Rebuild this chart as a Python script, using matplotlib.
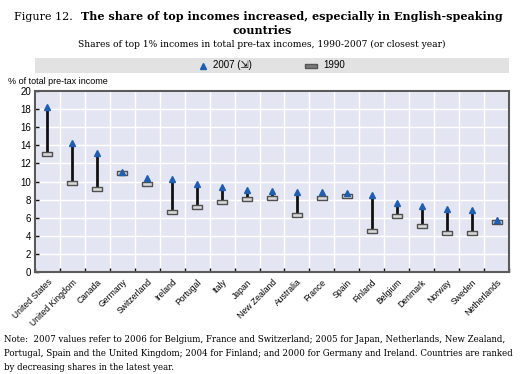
import numpy as np
import matplotlib
matplotlib.use("Agg")
from matplotlib import pyplot as plt
from matplotlib.patches import Rectangle

countries = ["United States", "United Kingdom", "Canada", "Germany", "Switzerland",
             "Ireland", "Portugal", "Italy", "Japan", "New Zealand", "Australia",
             "France", "Spain", "Finland", "Belgium", "Denmark", "Norway", "Sweden",
             "Netherlands"]
share_2007 = [18.2, 14.2, 13.2, 11.1, 10.4, 10.3, 9.7, 9.4, 9.1, 8.9, 8.8,
              8.8, 8.7, 8.5, 7.6, 7.3, 7.0, 6.8, 5.7]
share_1990 = [13.0, 9.8, 9.2, 10.9, 9.7, 6.6, 7.2, 7.7, 8.1, 8.2, 6.3,
              8.2, 8.4, 4.5, 6.2, 5.1, 4.3, 4.3, 5.5]
y_ticks = [0, 2, 4, 6, 8, 10, 12, 14, 16, 18, 20]

sans = ["Liberation Sans Narrow", "Liberation Sans", "DejaVu Sans"]
serif = ["DejaVu Serif"]

blue = "#1f5eb0"
bar_face = "#d8d8d8"
bar_edge = "#505050"
rect_marker = [(-1, -0.3), (1, -0.3), (1, 0.3), (-1, 0.3), (-1, -0.3)]

W, H = 524, 374
fig = plt.figure(figsize=(W / 100, H / 100), dpi=100)
renderer = fig.canvas.get_renderer()
ax = fig.add_axes([35 / W, 102 / H, 474 / W, 181 / H])
ax.set_facecolor("#e4e5f2")

x = np.arange(len(countries))
for i in range(len(countries)):
    ax.plot([x[i], x[i]], [share_1990[i], share_2007[i]], color="#111111",
            lw=2.0, solid_capstyle="butt", zorder=3)
ax.plot(x, share_1990, linestyle="none", marker=rect_marker, markersize=7.5,
        markerfacecolor=bar_face, markeredgecolor=bar_edge, markeredgewidth=1.0,
        zorder=4)
ax.plot(x, share_2007, linestyle="none", marker="^", markersize=5,
        color=blue, zorder=5)

ax.set_xlim(-0.5, len(countries) - 0.5)
ax.set_ylim(0, 20)
ax.set_yticks(y_ticks)
ax.set_yticklabels([str(v) for v in y_ticks], family=sans, fontsize=7)
ax.set_xticks(x)
ax.set_xticklabels(countries, rotation=45, ha="right", rotation_mode="anchor",
                   family=sans, fontsize=6.2)
ax.set_xticks(np.arange(-0.5, len(countries)), minor=True)
ax.tick_params(axis="x", which="major", length=0, pad=4)
ax.tick_params(axis="x", which="minor", direction="in", length=3, width=1, color="#111111")
ax.tick_params(axis="y", direction="in", length=3, width=1, color="#111111", pad=3)

ax.grid(True, axis="y", color="white", lw=1.0, zorder=0)
ax.grid(True, axis="x", which="minor", color="white", lw=1.0, zorder=0)
ax.set_axisbelow(True)
for side in ax.spines.values():
    side.set_color("#5a5a5a")
    side.set_linewidth(1.5)

# titles: size the first line so it spans the same width as the reference
fs = 10.0
t1 = fig.text(14 / W, 1 - 17 / H, "Figure 12.", family=serif, fontsize=fs,
              va="center", ha="left")
t2 = fig.text(0, 1 - 17 / H,
              "The share of top incomes increased, especially in English-speaking",
              family=serif, fontsize=fs, fontweight="bold", va="center", ha="left")
gap = 8
total = (t1.get_window_extent(renderer).width + gap
         + t2.get_window_extent(renderer).width)
fs = fs * 486 / total
t1.set_fontsize(fs)
t2.set_fontsize(fs)
w1 = t1.get_window_extent(renderer).width
t2.set_x((14 + w1 + gap) / W)
fig.text(0.5, 1 - 30 / H, "countries", family=serif, fontsize=fs,
         fontweight="bold", va="center", ha="center")
fig.text(0.5, 1 - 44 / H,
         "Shares of top 1% incomes in total pre-tax incomes, 1990-2007 (or closest year)",
         family=serif, fontsize=6.6, va="center", ha="center")

# legend band
fig.patches.append(Rectangle((35 / W, 1 - 73 / H), 474 / W, 15 / H,
                             transform=fig.transFigure, facecolor="#e2e2e2",
                             edgecolor="none"))
fig.lines.append(plt.Line2D([203 / W], [1 - 65.5 / H], transform=fig.transFigure,
                            marker="^", markersize=5, color=blue, linestyle="none"))
fig.text(213 / W, 1 - 65.5 / H, "2007 (⇲)", family=sans, fontsize=7,
         va="center", ha="left")
fig.lines.append(plt.Line2D([311 / W], [1 - 65.5 / H], transform=fig.transFigure,
                            marker=rect_marker, markersize=8, markerfacecolor="#7a7a7a",
                            markeredgecolor="#555555", linestyle="none"))
fig.text(323 / W, 1 - 65.5 / H, "1990", family=sans, fontsize=7,
         va="center", ha="left")

fig.text(8 / W, 1 - 81 / H, "% of total pre-tax income", family=sans,
         fontsize=6.5, va="center", ha="left")

# note: font sized so the longest line spans the page width
note_lines = [
    "Note:  2007 values refer to 2006 for Belgium, France and Switzerland; 2005 for Japan, Netherlands, New Zealand,",
    "Portugal, Spain and the United Kingdom; 2004 for Finland; and 2000 for Germany and Ireland. Countries are ranked",
    "by decreasing shares in the latest year.",
]
note_fs = 6.3
note_texts = [fig.text(4 / W, 1 - (340 + k * 13.5) / H, line, family=serif,
                       fontsize=note_fs, va="center", ha="left")
              for k, line in enumerate(note_lines)]
widest = max(t.get_window_extent(renderer).width for t in note_texts)
note_fs = note_fs * 514 / widest
for t in note_texts:
    t.set_fontsize(note_fs)

fig.savefig("out.png", dpi=100)
